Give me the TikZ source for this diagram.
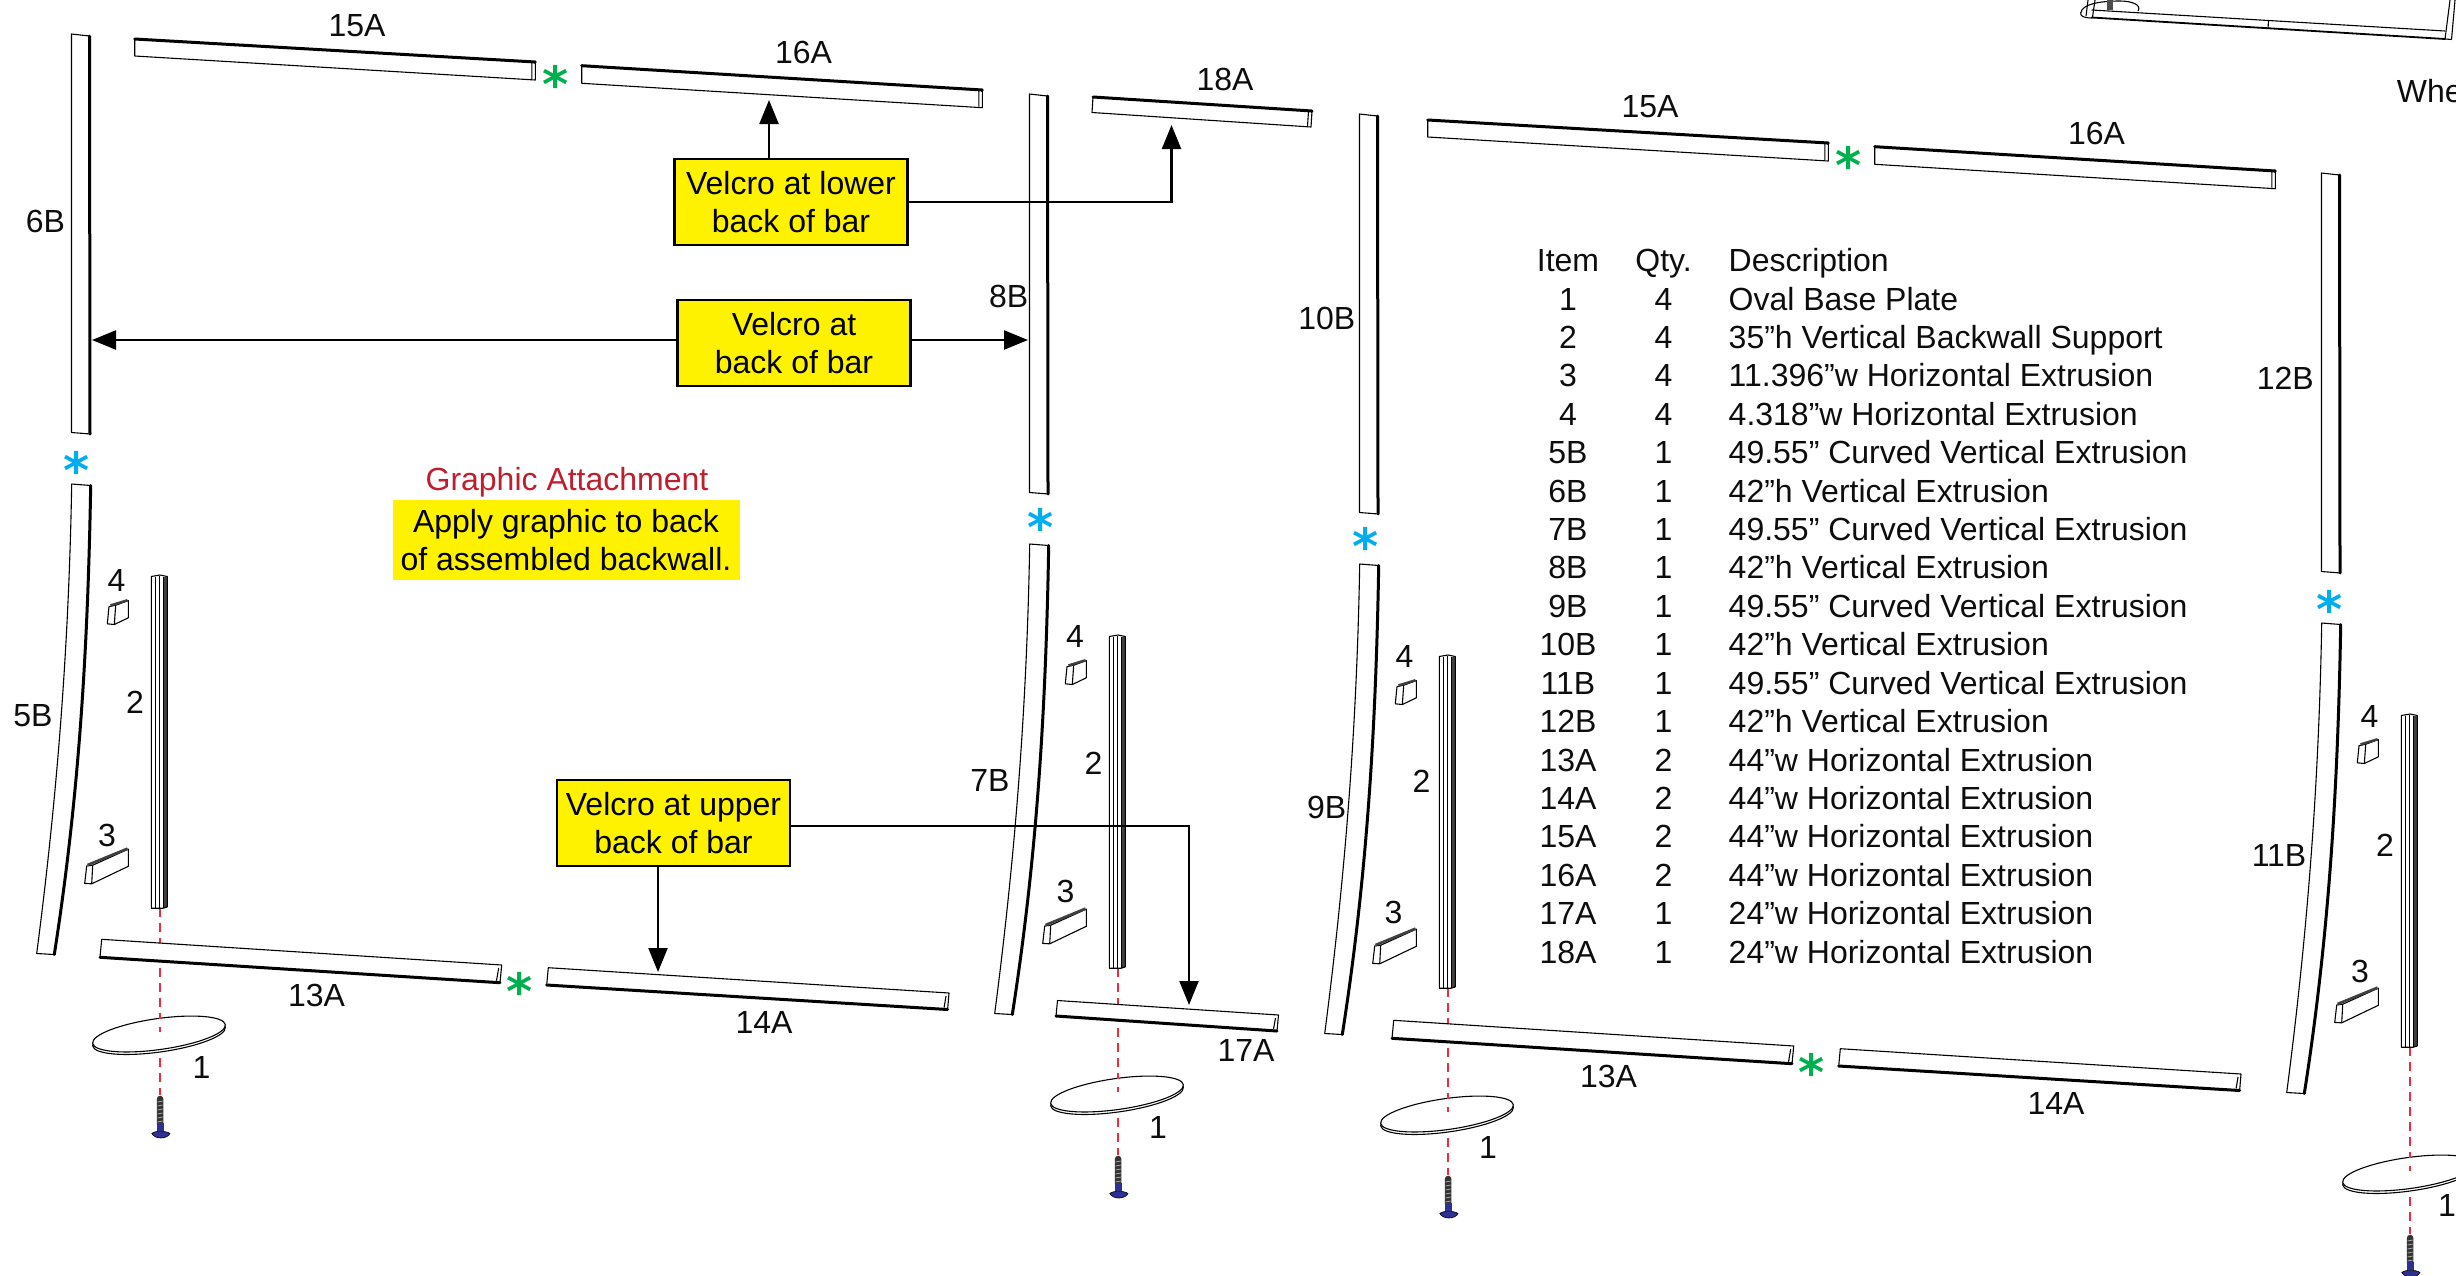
\documentclass[tikz,border=0pt]{standalone}
\usepackage{fontspec}
\setmainfont{Liberation Sans}
\newfontfamily\starfont{DejaVu Sans}
\usetikzlibrary{arrows.meta,calc}
\definecolor{velcro}{HTML}{FFF200}
\definecolor{cgreen}{HTML}{00B04F}
\definecolor{cblue}{HTML}{00AEEF}
\definecolor{cred}{HTML}{BE1E2D}
\definecolor{cdash}{HTML}{EF2B3D}
\definecolor{cscrew}{HTML}{2E3192}
\tikzset{
  txt/.style={inner sep=0pt,yshift=-0.6pt,font=\fontsize{32}{38}\selectfont,text=black!95},
  vbox/.style={draw=black,line width=2.7pt,fill=velcro,inner sep=0pt,minimum width=233pt,minimum height=86pt,align=center,font=\fontsize{32}{38.4}\selectfont},
  conn/.style={draw=black,line width=2.2pt},
  arr/.style={conn,-{Triangle[length=24pt,width=19pt]}},
  thin edge/.style={draw=black,line width=1.1pt,line join=round},
  thick edge/.style={draw=black,line width=3pt,line cap=round},
  stargreen/.style={inner sep=0pt,text=cgreen,font=\starfont\bfseries\fontsize{50}{50}\selectfont},
  starblue/.style={inner sep=0pt,text=cblue,font=\starfont\bfseries\fontsize{50}{50}\selectfont},
  redline/.style={draw=cdash,line width=1.8pt,dash pattern=on 9pt off 6pt},
  cell/.style={txt,anchor=base},
  celll/.style={txt,anchor=base west}
}
% horizontal bar: TL, BL, TR, BR; thick edge on top
\newcommand\barThickTop[4]{%
  \fill[white] #1 -- #3 -- #4 -- #2 -- cycle;
  \draw[thin edge] #1 -- #2 -- #4 -- #3;
  \draw[thick edge] #1 -- #3;
  \draw[thin edge] #3 -- ($#3+(-0.5,2)$) ($#4+(-3.5,-1)$) -- ($#3+(-3.5,0)$);
}
\newcommand\barThickBottom[4]{%
  \fill[white] #1 -- #3 -- #4 -- #2 -- cycle;
  \draw[thin edge] #2 -- #1 -- #3 -- #4;
  \draw[thick edge] #2 -- #4;
  \draw[thin edge] ($#4+(-3.5,-2)$) -- ($#3+(-3,3)$);
}
% top bars 15A 16A
\newcommand\topBars[1]{%
  \barThickTop{(134.7,39)}{(134.7,56)}{(535.3,62)}{(535.3,80)}
  \barThickTop{(581.7,65.7)}{(581.7,83.3)}{(982.3,90)}{(982.3,107.7)}
  \node[stargreen] (sg#1) at (555.5,84) {*};
  \node[txt] (la#1) at (357,25) {15A};
  \node[txt] (lb#1) at (803.5,52) {16A};
}
% bottom bars 13A 14A
\newcommand\bottomBars[1]{%
  \barThickBottom{(101.7,939.3)}{(100,957.3)}{(501.7,965)}{(500,982.7)}
  \barThickBottom{(548.3,967.7)}{(546.7,985)}{(949,993)}{(947.6,1009.5)}
  \node[stargreen] (sh#1) at (520,991) {*};
  \node[txt] (lc#1) at (316.5,995) {13A};
  \node[txt] (ld#1) at (764,1021.5) {14A};
}
% column: red line, then oval, drawn before bars
\newcommand\colBack{%
  \draw[redline] (160,908) -- (160,1095);
  \draw[thin edge,fill=white,rotate around={8:(159,1036.5)}] (159,1036.5) ellipse [x radius=67pt,y radius=15.5pt];
  \draw[thin edge,fill=white,rotate around={8:(159,1034)}] (159,1034) ellipse [x radius=67pt,y radius=15.5pt];
  \draw[draw=cdash,line width=1.8pt] (160,1019) -- (160,1016) (160,1027) -- (160,1032);
}
\newcommand\colFront{%
  % straight bar
  \fill[white] (71.5,34) -- (89.5,36) -- (90.5,434) -- (71.5,432.5) -- cycle;
  \draw[thin edge] (89.5,36) -- (71.5,34) -- (71.5,432.5) -- (90.5,434);
  \draw[thick edge] (89.5,36) -- (90,434);
  % curved bar
  \draw[thin edge,fill=white] (71.7,484) -- (90.7,485.5) .. controls (88,640) and (80,790) .. (54.3,954.5) -- (36.7,953.5) .. controls (58,790) and (69,640) .. (71.7,484) -- cycle;
  \draw[thick edge] (90.7,485.5) .. controls (88,640) and (80,790) .. (54.3,954.5);
  % block 4
  \draw[thin edge,fill=white] (109,606.7) -- (115.7,605.2) -- (128.3,600.6) -- (128.3,617.8) -- (114.3,624.5) -- (107.3,623.8) -- cycle;
  \draw[thin edge] (115.7,605.2) -- (114.3,624.5);
  \draw[black!75,line width=2.4pt] (110.5,605.4) -- (127.5,600.2);
  % block 3
  \draw[thin edge,fill=white] (86.7,866) -- (92.7,865.2) -- (128.3,849.1) -- (128.3,866.3) -- (91.7,883.8) -- (84.7,883.4) -- cycle;
  \draw[thin edge] (92.7,865.2) -- (91.7,883.8);
  \draw[black!75,line width=2.6pt] (87.5,865) -- (127.5,848.6);
  % support 2
  \fill[black!75] (163.3,577) rectangle (167.3,907.5);
  \draw[thin edge] (151.3,576.5) -- (151.3,908.2) -- (163.3,908.2) -- (167.3,906.8) -- (167.3,576.5) -- (160,575) -- cycle;
  \draw[thin edge] (155.7,576.5) -- (155.7,908) (159.4,576) -- (159.4,908) (163.3,576.5) -- (163.3,908);
  % screw
  \fill[black!80] (156.8,1099) arc[start angle=180,end angle=0,radius=3.3pt] -- (163.4,1124) -- (156.8,1124) -- cycle;
  \foreach \yy in {1101,1105,...,1121} {\draw[black!35,line width=.8pt] (157.5,\yy+1) -- (162.7,\yy);}
  \fill[cscrew] (157,1123) rectangle (163.6,1131);
  \draw[black,line width=.6pt,fill=cscrew] (151.8,1133.5) .. controls (155,1130.5) and (166,1130.5) .. (170,1133.5) .. controls (167,1139.5) and (155,1139.5) .. (151.8,1133.5) -- cycle;
}
\begin{document}
\begin{tikzpicture}[x=1pt,y=-1pt]
\useasboundingbox (0,0) rectangle (2456,1275);
\fill[white] (0,0) rectangle (2456,1275);
\clip (0,0) rectangle (2456,1275);

% ovals and red lines
\colBack
\begin{scope}[shift={(958,60)}]\colBack\end{scope}
\begin{scope}[shift={(1288,80)}]\colBack\end{scope}
\begin{scope}[shift={(2250,139)}]\colBack\end{scope}

% horizontal bars
\topBars{p}
\bottomBars{p}
\begin{scope}[shift={(1293,81)}]\topBars{q}\end{scope}
\begin{scope}[shift={(1292,81)}]\bottomBars{q}\end{scope}
\barThickTop{(1093,97)}{(1092,112.5)}{(1312,111)}{(1311,127)}
\barThickBottom{(1057.5,1000.5)}{(1056,1016)}{(1278.5,1015)}{(1277,1031)}
\node[txt] (l18) at (1225,78.5) {18A};
\node[txt] (l17) at (1246,1050) {17A};

% columns
\colFront
\begin{scope}[shift={(958,60)}]\colFront\end{scope}
\begin{scope}[shift={(1288,80)}]\colFront\end{scope}
\begin{scope}[shift={(2250,139)}]\colFront\end{scope}

% part numbers of the columns
\node[txt] (fa) at (116.5,580) {4};
\node[txt] (ga) at (107,835) {3};
\node[txt] (ha) at (135,702) {2};
\node[txt] (ia) at (201.5,1066.5) {1};
\node[txt] (fb) at (1075,636) {4};
\node[txt] (gb) at (1065.6,890.4) {3};
\node[txt] (hb) at (1093.6,763) {2};
\node[txt] (ib) at (1158,1126.5) {1};
\node[txt] (fc) at (1404.5,656) {4};
\node[txt] (gc) at (1393.5,912) {3};
\node[txt] (hc) at (1421.5,781) {2};
\node[txt] (ic) at (1488,1146.5) {1};
\node[txt] (fd) at (2369.6,716) {4};
\node[txt] (gd) at (2360,970.5) {3};
\node[txt] (hd) at (2385,844.8) {2};
\node[txt] (id) at (2447,1205) {1};

\node[starblue] (b1) at (77,470) {*};
\node[starblue] (b2) at (1040.5,527) {*};
\node[starblue] (b3) at (1366,546) {*};
\node[starblue] (b4) at (2330,609) {*};

\node[txt] (l6) at (45.5,221) {6B};
\node[txt] (l8) at (1008.7,296) {8B};
\node[txt] (l10) at (1326.7,318) {10B};
\node[txt] (l12) at (2285.3,377.5) {12B};
\node[txt] (l5) at (33,715) {5B};
\node[txt] (l7) at (990,780) {7B};
\node[txt] (l9) at (1326.7,807) {9B};
\node[txt] (l11) at (2279,855) {11B};

% yellow boxes
\node[vbox] (lower) at (791,202) {Velcro at lower\\back of bar};
\node[vbox] (back) at (794,343) {Velcro at\\back of bar};
\node[vbox] (upper) at (673.5,823) {Velcro at upper\\back of bar};
\node[fill=velcro,inner sep=0pt,minimum width=347pt,minimum height=80pt,align=center,font=\fontsize{32}{38.4}\selectfont] (graphic) at (566,540) {Apply graphic to back\\of assembled backwall.};
\node[txt,text=cred] (gtitle) at (567,481.5) {Graphic Attachment};

% connectors
\coordinate (t16) at (769,100);
\coordinate (t18) at (1171.5,125);
\coordinate (t6) at (92,340);
\coordinate (t8) at (1028,340);
\coordinate (t14) at (658,972);
\coordinate (t17) at (1189,1005);
\draw[arr] (lower.north -| t16) -- (t16);
\draw[arr] (lower.east) -| (t18);
\draw[arr] (back.west |- t6) -- (t6);
\draw[arr] (back.east |- t8) -- (t8);
\draw[arr] (upper.south -| t14) -- (t14);
\draw[arr] (upper.east) ++(0,3) -| (t17);

% parts table
\node[cell] (hitem) at (1568,271) {Item};
\node[cell] (hqty) at (1663.5,271) {Qty.};
\node[celll] (hdesc) at (1728.5,271) {Description};
\foreach \it/\qt/\de [count=\n] in {
 1/4/Oval Base Plate,
 2/4/35”h Vertical Backwall Support,
 3/4/11.396”w Horizontal Extrusion,
 4/4/4.318”w Horizontal Extrusion,
 5B/1/49.55” Curved Vertical Extrusion,
 6B/1/42”h Vertical Extrusion,
 7B/1/49.55” Curved Vertical Extrusion,
 8B/1/42”h Vertical Extrusion,
 9B/1/49.55” Curved Vertical Extrusion,
 10B/1/42”h Vertical Extrusion,
 11B/1/49.55” Curved Vertical Extrusion,
 12B/1/42”h Vertical Extrusion,
 13A/2/44”w Horizontal Extrusion,
 14A/2/44”w Horizontal Extrusion,
 15A/2/44”w Horizontal Extrusion,
 16A/2/44”w Horizontal Extrusion,
 17A/1/24”w Horizontal Extrusion,
 18A/1/24”w Horizontal Extrusion}
{
  \node[cell] (item\n) at (1568,271+\n*38.42) {\it};
  \node[cell] (qty\n) at (1663.5,271+\n*38.42) {\qt};
  \node[celll] (desc\n) at (1728.5,271+\n*38.42) {\de};
}

% clipped fragment at top right
\draw[thin edge] (2080.7,13) .. controls (2082,4) and (2100,1) .. (2120,1) .. controls (2132,1) and (2142,5) .. (2138,11);
\draw[thin edge] (2080.7,13) .. controls (2080,16) and (2084,18) .. (2092,18);
\fill[black!70] (2107,0) rectangle (2113,10);
\fill[white] (2091.7,10) -- (2445,31) -- (2445,39) -- (2091.7,17.5) -- cycle;
\draw[thin edge] (2091.7,10) -- (2445,31);
\draw[thick edge,line width=1.8pt] (2091.7,17.5) -- (2445,39);
\draw[thin edge] (2268.5,20.5) -- (2268,28.5);
\draw[thin edge] (2092.5,17) -- (2095,0);
\draw[thin edge] (2086,16) -- (2088,0);
\draw[thin edge] (2445,39) -- (2450,0) (2451.5,39.5) -- (2455,0) (2445,39) -- (2451.5,39.5);
\node[txt,anchor=base west] (whe) at (2396.7,101.5) {Whe};
\end{tikzpicture}
\end{document}
